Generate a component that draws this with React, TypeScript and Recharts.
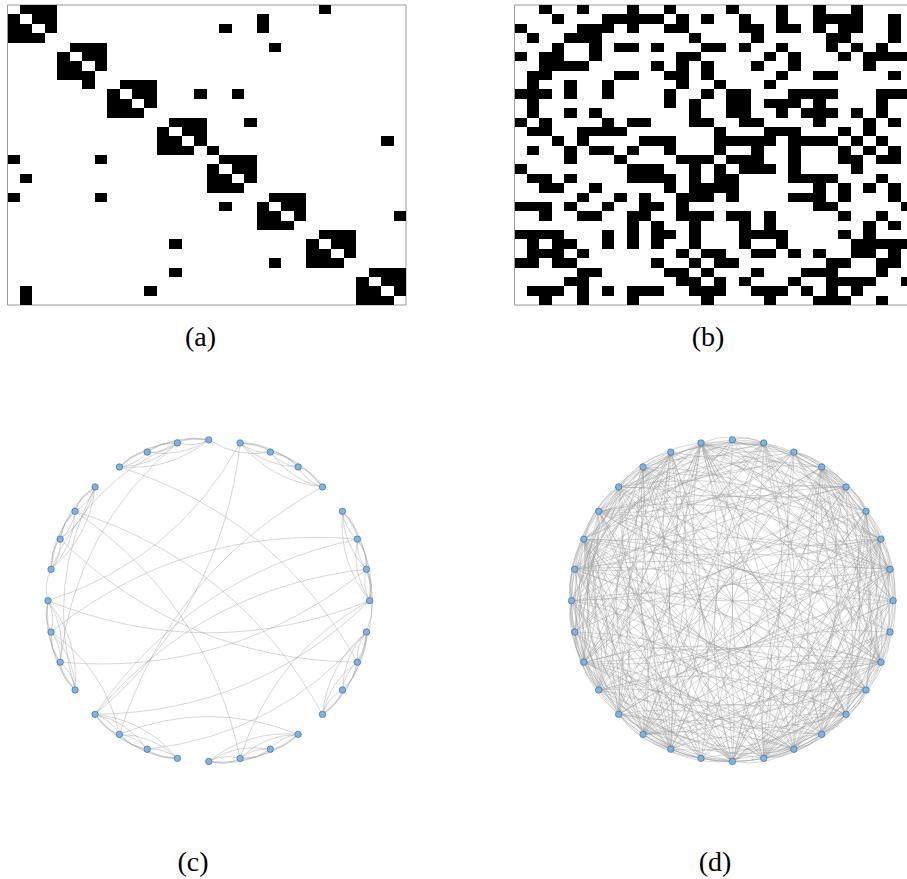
import { ScatterChart, Scatter, XAxis, YAxis, ReferenceArea } from 'recharts'

const SIZE = 32
const RAD = 0.2 // arc3 bend of the graph edges

// (a) block matrix, rows top to bottom, groups of four columns
const clusteredRows = [
  '0111 0000 0000 0000 0000 0000 0100 0000',
  '1011 0000 0000 0000 0000 1000 0000 0000',
  '1101 0000 0000 0000 0100 1000 0000 0000',
  '1110 0000 0000 0000 0000 0000 0000 0000',
  '0000 0111 0000 0000 0000 0100 0000 0000',
  '0000 1011 0000 0000 0000 0000 0000 0000',
  '0000 1101 0000 0000 0000 0000 0000 0000',
  '0000 1110 0000 0000 0000 0000 0000 0000',
  '0000 0010 0111 0000 0000 0000 0000 0000',
  '0000 0000 1011 0001 0010 0000 0000 0000',
  '0000 0000 1101 0000 0000 0000 0000 0000',
  '0000 0000 1110 0000 0000 0000 0000 0000',
  '0000 0000 0000 0111 0001 0000 0000 0000',
  '0000 0000 0000 1011 0000 0000 0000 0000',
  '0000 0000 0000 1101 0000 0000 0000 0010',
  '0000 0000 0000 1110 1000 0000 0000 0000',
  '1000 0001 0000 0000 0111 0000 0000 0000',
  '0000 0000 0000 0000 1011 0000 0000 0000',
  '0100 0000 0000 0000 1101 0000 0000 0000',
  '0000 0000 0000 0000 1110 0000 0000 0000',
  '1000 0001 0000 0000 0000 0111 0000 0000',
  '0000 0000 0000 0000 0100 1011 0000 0000',
  '0000 0000 0000 0000 0000 1101 0000 0001',
  '0000 0000 0000 0000 0000 1110 0000 0000',
  '0000 0000 0000 0000 0000 0000 0111 0000',
  '0000 0000 0000 0100 0000 0000 1011 0000',
  '0000 0000 0000 0000 0000 0000 1101 0000',
  '0000 0000 0000 0000 0000 0100 1110 0000',
  '0000 0000 0000 0100 0000 0000 0000 0111',
  '0000 0000 0000 0000 0000 0000 0000 1011',
  '0100 0000 0001 0000 0000 0000 0000 1101',
  '0100 0000 0000 0000 0000 0000 0000 1110',
]

// (b) shuffled matrix
const randomRows = [
  '0010 0100 0100 1000 0100 0100 1001 0000',
  '0001 0001 1111 0101 0010 0100 1111 0010',
  '1000 0111 0100 1100 0011 0110 1011 0010',
  '0100 1110 0000 0010 0001 0000 0110 0010',
  '0001 0010 1101 0001 1010 0100 0101 0100',
  '1011 0010 0000 0110 0000 1010 0010 1111',
  '0011 1100 0001 0101 0001 0010 0000 1000',
  '0110 0000 1100 1101 0000 0100 1100 0010',
  '0100 1001 0000 0100 1000 1000 0000 0000',
  '1110 1001 0000 1001 0110 0011 1100 0111',
  '0100 0000 0000 1010 0110 1110 1000 0100',
  '0100 1010 0000 0010 0110 0101 1101 0100',
  '1010 0001 0110 0011 0011 0000 1000 1010',
  '0110 0111 1000 0000 1000 1110 0010 1000',
  '0001 0100 0011 1000 1111 1011 1101 0100',
  '0100 1011 0100 1000 1001 0010 0010 1010',
  '0000 1000 1000 0111 0111 0010 0011 0110',
  '1000 0000 0111 0010 1011 1010 0001 0000',
  '0110 1000 0111 1010 1100 0011 1100 0100',
  '0011 0010 0000 1011 1100 0000 1010 1010',
  '0000 0100 1010 0111 0100 0011 1010 0010',
  '1110 1001 0011 0100 0000 0000 1100 0001',
  '0010 0110 0110 0111 0110 1000 0010 0100',
  '0000 0000 0101 0010 0010 1000 0000 1010',
  '1111 0001 0101 1010 0011 1100 0010 1000',
  '0101 1001 0101 0010 0010 0100 0001 1111',
  '0111 0100 0000 0101 1001 1010 1001 1010',
  '1101 1000 0001 0010 1100 0000 0110 0110',
  '0000 0110 0000 1101 0001 0001 1100 0100',
  '0000 1100 0000 0110 1010 0010 0111 1001',
  '0111 0101 0111 0011 1001 1101 0101 0000',
  '0010 0100 0100 0001 0000 1000 1110 0100',
]

const labels = ['(a)', '(b)', '(c)', '(d)']

const parse = (rows: string[]) => rows.map((r) => r.replace(/ /g, '').split('').map(Number))
const clustered = parse(clusteredRows)
const random = parse(randomRows)

// two corners per black cell
const cellCorners = (m: number[][]) => {
  const out: { x: number; y: number }[] = []
  m.forEach((row, r) =>
    row.forEach((v, c) => {
      if (v) out.push({ x: c, y: r }, { x: c + 1, y: r + 1 })
    })
  )
  return out
}

// circular layout, node 0 on the right, counter clockwise
const nodes = Array.from({ length: SIZE }, (_, i) => ({
  id: i,
  x: Math.cos((2 * Math.PI * i) / SIZE),
  y: Math.sin((2 * Math.PI * i) / SIZE),
}))

// source / target pairs, row -> column
const edgeEnds = (m: number[][]) => {
  const out: { x: number; y: number }[] = []
  m.forEach((row, r) =>
    row.forEach((v, c) => {
      if (v && r !== c) out.push({ ...nodes[r] }, { ...nodes[c] })
    })
  )
  return out
}

const Nothing = () => <g />

const CellRects = (props: any) => {
  const pts = props.points || []
  const rects = []
  for (let i = 0; i + 1 < pts.length; i += 2) {
    const a = pts[i]
    const b = pts[i + 1]
    rects.push(
      <rect
        key={i}
        x={Math.min(a.x, b.x)}
        y={Math.min(a.y, b.y)}
        width={Math.abs(b.x - a.x)}
        height={Math.abs(b.y - a.y)}
        fill="#000"
      />
    )
  }
  return <g shapeRendering="crispEdges">{rects}</g>
}

const EdgeArcs = (props: any) => {
  const pts = props.points || []
  const paths = []
  for (let i = 0; i + 1 < pts.length; i += 2) {
    const a = pts[i]
    const b = pts[i + 1]
    const dx = b.x - a.x
    const dy = b.y - a.y
    const cx = (a.x + b.x) / 2 - RAD * dy
    const cy = (a.y + b.y) / 2 + RAD * dx
    paths.push(
      <path
        key={i}
        d={`M${a.x},${a.y}Q${cx},${cy} ${b.x},${b.y}`}
        fill="none"
        stroke="#9a9a9a"
        strokeOpacity={0.5}
        strokeWidth={0.8}
      />
    )
  }
  return <g>{paths}</g>
}

const NodeDot = (props: any) => (
  <circle cx={props.cx} cy={props.cy} r={3.2} fill="#7fb4e2" stroke="#3f6f9c" strokeWidth={0.7} />
)

function MatrixPanel({ matrix, left, marginLeft }: { matrix: number[][]; left: number; marginLeft: number }) {
  return (
    <div style={{ position: 'absolute', left, top: 0 }}>
      <ScatterChart width={414} height={310} margin={{ top: 5, left: marginLeft, right: 414 - marginLeft - 398.5, bottom: 5 }}>
        <XAxis type="number" dataKey="x" domain={[0, SIZE]} hide />
        <YAxis type="number" dataKey="y" domain={[0, SIZE]} reversed hide />
        <Scatter data={cellCorners(matrix)} shape={Nothing} line={<CellRects />} isAnimationActive={false} />
        <ReferenceArea x1={0} x2={SIZE} y1={0} y2={SIZE} fill="none" stroke="#9a9a9a" strokeWidth={1} ifOverflow="visible" />
      </ScatterChart>
    </div>
  )
}

function GraphPanel({ matrix, left, marginLeft }: { matrix: number[][]; left: number; marginLeft: number }) {
  const plot = 2.4 * 160.8
  return (
    <div style={{ position: 'absolute', left, top: 400 }}>
      <ScatterChart width={420} height={400} margin={{ top: 7.7, left: marginLeft, right: 420 - marginLeft - plot, bottom: 400 - 7.7 - plot }}>
        <XAxis type="number" dataKey="x" domain={[-1.2, 1.2]} hide />
        <YAxis type="number" dataKey="y" domain={[-1.2, 1.2]} hide />
        <Scatter data={edgeEnds(matrix)} shape={Nothing} line={<EdgeArcs />} isAnimationActive={false} />
        <Scatter data={nodes} shape={NodeDot} isAnimationActive={false} />
      </ScatterChart>
    </div>
  )
}

const labelPos = [
  { x: 200.5, y: 337 },
  { x: 708, y: 337 },
  { x: 193, y: 862 },
  { x: 715, y: 862 },
]

export default function App() {
  return (
    <div style={{ position: 'absolute', left: 0, top: 0, width: 907, height: 879, overflow: 'hidden', background: '#fff' }}>
      <MatrixPanel matrix={clustered} left={0} marginLeft={7.5} />
      <MatrixPanel matrix={random} left={508} marginLeft={6.5} />
      <GraphPanel matrix={clustered} left={0} marginLeft={208.8 - 193} />
      <GraphPanel matrix={random} left={520} marginLeft={732.4 - 193 - 520} />
      {labels.map((t, i) => (
        <div
          key={t}
          style={{
            position: 'absolute',
            left: labelPos[i].x - 50,
            top: labelPos[i].y - 16,
            width: 100,
            lineHeight: '32px',
            textAlign: 'center',
            fontFamily: '"Liberation Serif", serif',
            fontSize: 28,
            color: '#000',
          }}
        >
          {t}
        </div>
      ))}
    </div>
  )
}
